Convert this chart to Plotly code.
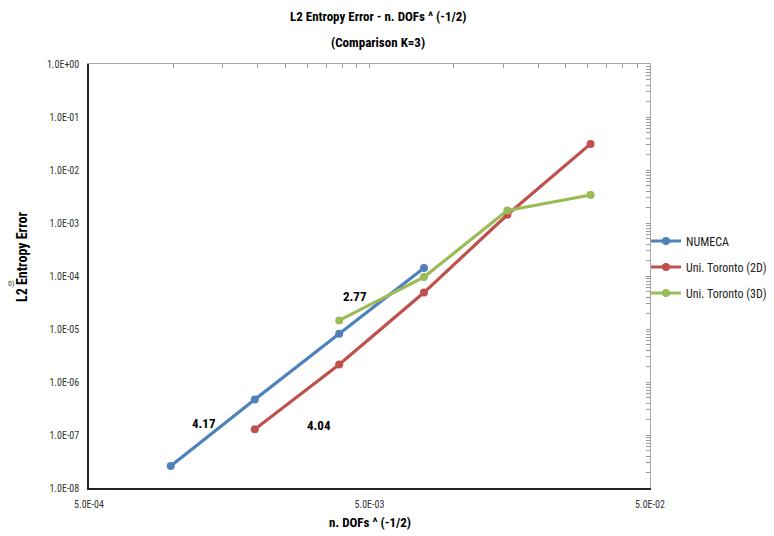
import numpy as np
import plotly.graph_objects as go

# ---- data ----
x_numeca = [9.78e-4, 1.95e-3, 3.90e-3, 7.82e-3]
y_numeca = [2.61e-8, 4.70e-7, 8.12e-6, 1.42e-4]

x_tor2d = [1.95e-3, 3.90e-3, 7.82e-3, 1.55e-2, 3.07e-2]
y_tor2d = [1.28e-7, 2.14e-6, 4.87e-5, 1.43e-3, 3.11e-2]

x_tor3d = [3.90e-3, 7.82e-3, 1.55e-2, 3.07e-2]
y_tor3d = [1.45e-5, 9.53e-5, 1.73e-3, 3.37e-3]

series_names = ["NUMECA", "Uni. Toronto (2D)", "Uni. Toronto (3D)"]
series_colors = ["#4F81BD", "#C0504D", "#9BBB59"]

x_tickvals = [5e-4, 5e-3, 5e-2]
x_ticktext = ["5.0E-04", "5.0E-03", "5.0E-02"]
y_tickvals = [1e0, 1e-1, 1e-2, 1e-3, 1e-4, 1e-5, 1e-6, 1e-7, 1e-8]
y_ticktext = ["1.0E+00", "1.0E-01", "1.0E-02", "1.0E-03", "1.0E-04",
              "1.0E-05", "1.0E-06", "1.0E-07", "1.0E-08"]

slope_labels = ["4.17", "4.04", "2.77"]
slope_x = [1.29e-3, 3.30e-3, 4.43e-3]
slope_y = [1.66e-7, 1.52e-7, 4.18e-5]

FONT = "Roboto Condensed, Liberation Sans Narrow, Roboto, sans-serif"

fig = go.Figure()
for xs, ys, name, col in zip([x_numeca, x_tor2d, x_tor3d],
                             [y_numeca, y_tor2d, y_tor3d],
                             series_names, series_colors):
    fig.add_trace(go.Scatter(
        x=xs, y=ys, mode="lines+markers", name=name, legendgroup=name,
        line=dict(color=col, width=3.2),
        marker=dict(color=col, size=8, symbol="circle"),
    ))

# decorative mirrored axes (top / right) with log minor ticks
top_ticks = [k * 10 ** d for d in range(0, 2) for k in range(1, 10)] + [100]
right_ticks = [k * 10.0 ** d for d in range(-8, 0) for k in range(1, 10)] + [1.0]
fig.add_trace(go.Scatter(x=[], y=[], xaxis="x2", yaxis="y", showlegend=False, hoverinfo="skip"))
fig.add_trace(go.Scatter(x=[], y=[], xaxis="x", yaxis="y2", showlegend=False, hoverinfo="skip"))

for lbl, lx, ly in zip(slope_labels, slope_x, slope_y):
    fig.add_annotation(x=np.log10(lx), y=np.log10(ly), text="<b>" + lbl + "</b>",
                       showarrow=False, xanchor="center", yanchor="middle",
                       font=dict(size=13, color="black", family=FONT))

def paper_text(px, py, text, size, angle=0, color="black"):
    # px, py: page pixel position of the text centre (plot area: 89..650 x 64..488)
    fig.add_annotation(xref="paper", yref="paper",
                       x=(px - 89) / 561, y=(488 - py) / 424,
                       text=text, showarrow=False, textangle=angle,
                       xanchor="center", yanchor="middle",
                       font=dict(size=size, color=color, family=FONT))

paper_text(378, 16, "<b>L2 Entropy Error - n. DOFs ^ (-1/2)</b>", 13)
paper_text(378, 42, "<b>(Comparison K=3)</b>", 13)
paper_text(370, 522, "<b>n. DOFs ^ (-1/2)</b>", 13)
paper_text(22, 257, "<b>L2 Entropy Error</b>", 14, angle=-90)
paper_text(11.5, 283, "0)", 8, color="#333333")

# page body has an 8px margin: place the plot area at (81, 56) in figure coords
fig.update_layout(
    width=774, height=536,
    margin=dict(l=81, r=132, t=56, b=56, autoexpand=False),
    paper_bgcolor="white", plot_bgcolor="white",
    font=dict(family=FONT, size=10, color="#333333"),
    xaxis=dict(type="log", range=[np.log10(5e-4), np.log10(5e-2)],
               tickvals=x_tickvals, ticktext=x_ticktext, ticks="",
               showgrid=False, zeroline=False, showline=True, automargin=False,
               linecolor="#222222", linewidth=1.5, ticklabelstandoff=6),
    yaxis=dict(type="log", range=[-8, 0],
               tickvals=y_tickvals, ticktext=y_ticktext, ticks="",
               showgrid=False, zeroline=False, showline=True, automargin=False,
               linecolor="#222222", linewidth=1.5, ticklabelstandoff=6),
    xaxis2=dict(type="log", range=[0, 2], overlaying="x", side="top",
                tickvals=top_ticks, ticks="inside", ticklen=4, tickcolor="#999999",
                showticklabels=False, showgrid=False, zeroline=False, automargin=False,
                showline=True, linecolor="#a6a6a6", linewidth=1),
    yaxis2=dict(type="log", range=[-8, 0], overlaying="y", side="right",
                tickvals=right_ticks, ticks="inside", ticklen=4, tickcolor="#999999",
                showticklabels=False, showgrid=False, zeroline=False, automargin=False,
                showline=True, linecolor="#a6a6a6", linewidth=1),
    legend=dict(xref="container", x=638 / 774, xanchor="left",
                yref="container", y=1 - 259 / 536, yanchor="middle",
                font=dict(size=12, color="#222222", family=FONT),
                traceorder="grouped", tracegroupgap=7, itemwidth=30,
                bgcolor="rgba(0,0,0,0)"),
    showlegend=True,
)

fig.write_html("out.html")
